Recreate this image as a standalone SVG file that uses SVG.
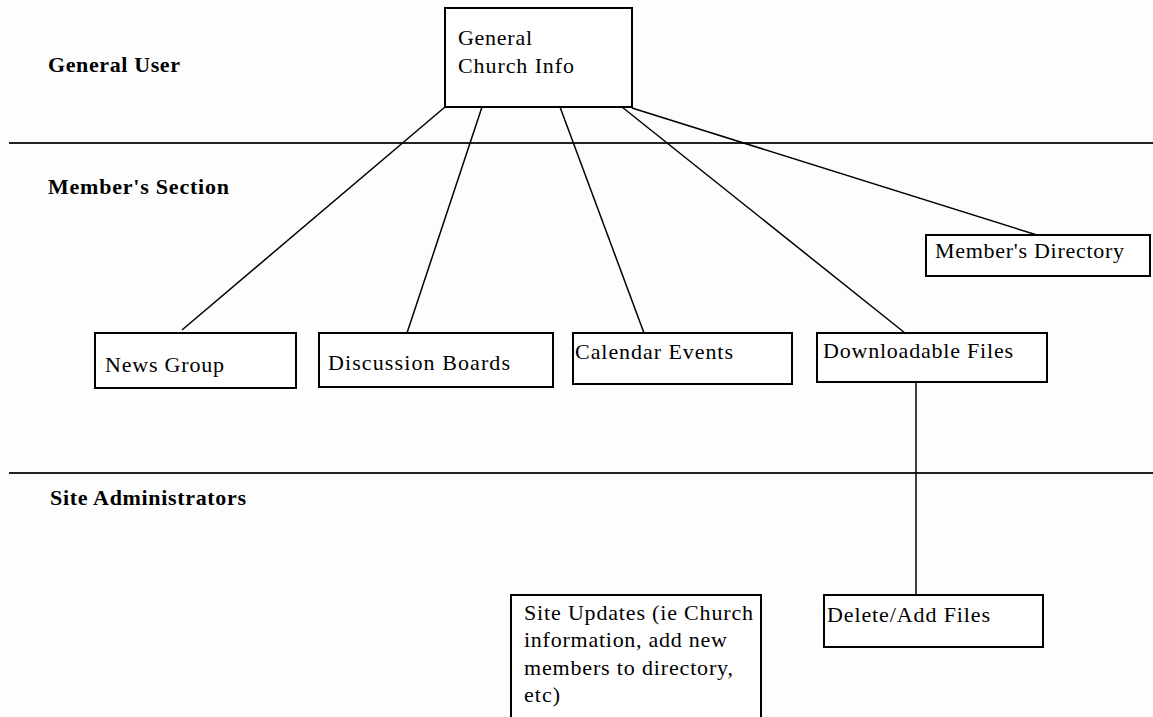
<svg xmlns="http://www.w3.org/2000/svg" width="1153" height="717" viewBox="0 0 1153 717">
<style>
.bg{fill:#fdfdfd}
.box{fill:#ffffff;stroke:#000;stroke-width:2}
.sep{stroke:#222;stroke-width:2}
.con{stroke:#000;stroke-width:1.5;fill:none}
.t{font-family:"Liberation Serif","Times New Roman",serif;font-size:22px;fill:#000}
.lab{font-family:"Liberation Serif","Times New Roman",serif;font-size:22px;font-weight:bold;fill:#000}
</style>
<rect class="bg" x="0" y="0" width="1153" height="717"/>
<g id="separators">
<line class="sep" x1="9" y1="143" x2="1153" y2="143"/>
<line class="sep" x1="9" y1="473" x2="1153" y2="473"/>
</g>
<g id="section-labels">
<text class="lab" x="48" y="72" textLength="132">General User</text>
<text class="lab" x="48" y="194" textLength="181">Member's Section</text>
<text class="lab" x="50" y="505" textLength="196">Site Administrators</text>
</g>
<g id="connectors">
<line class="con" x1="445" y1="107" x2="182" y2="330"/>
<line class="con" x1="482" y1="107" x2="407" y2="333"/>
<line class="con" x1="560" y1="107" x2="644" y2="333"/>
<line class="con" x1="622" y1="107" x2="905" y2="333"/>
<line class="con" x1="632" y1="108" x2="1037" y2="235"/>
<line class="con" x1="916" y1="382" x2="916" y2="595"/>
</g>
<g id="general-church-info">
<rect class="box" x="445" y="8" width="187" height="99"/>
<text class="t" x="458" y="45" textLength="74">General</text>
<text class="t" x="458" y="73" textLength="116">Church Info</text>
</g>
<g id="members-directory">
<rect class="box" x="926" y="235" width="224" height="41"/>
<text class="t" x="935" y="258" textLength="189">Member's Directory</text>
</g>
<g id="news-group">
<rect class="box" x="95" y="333" width="201" height="55"/>
<text class="t" x="105" y="372" textLength="119">News Group</text>
</g>
<g id="discussion-boards">
<rect class="box" x="319" y="333" width="234" height="54"/>
<text class="t" x="328" y="370" textLength="182">Discussion Boards</text>
</g>
<g id="calendar-events">
<rect class="box" x="573" y="333" width="219" height="51"/>
<text class="t" x="575" y="359" textLength="158">Calendar Events</text>
</g>
<g id="downloadable-files">
<rect class="box" x="817" y="333" width="230" height="49"/>
<text class="t" x="823" y="358" textLength="190">Downloadable Files</text>
</g>
<g id="site-updates">
<rect class="box" x="511" y="595" width="250" height="140"/>
<text class="t" x="524" y="620" textLength="229">Site Updates (ie Church</text>
<text class="t" x="524" y="647" textLength="203">information, add new</text>
<text class="t" x="524" y="675" textLength="209">members to directory,</text>
<text class="t" x="524" y="702" textLength="36">etc)</text>
</g>
<g id="delete-add-files">
<rect class="box" x="824" y="595" width="219" height="52"/>
<text class="t" x="827" y="622" textLength="163">Delete/Add Files</text>
</g>
</svg>
